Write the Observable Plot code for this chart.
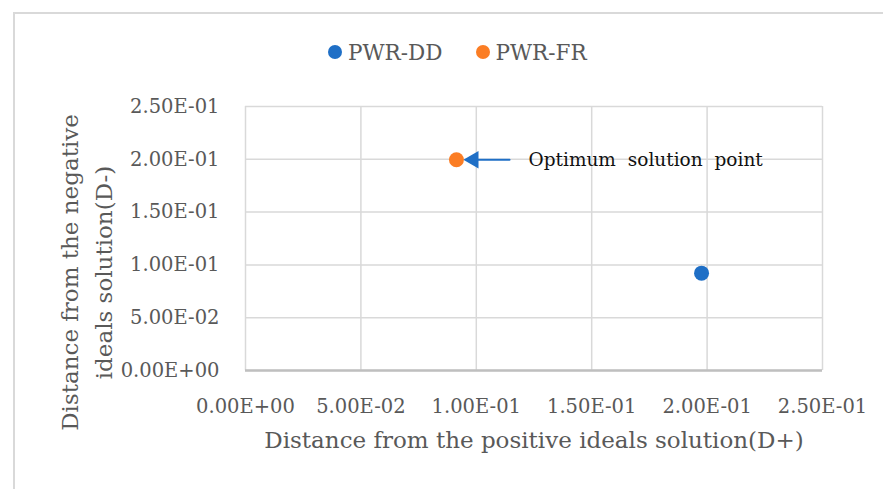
<!DOCTYPE html>
<html>
<head>
<meta charset="utf-8">
<script src="https://cdn.jsdelivr.net/npm/d3@7"></script>
<script src="https://cdn.jsdelivr.net/npm/@observablehq/plot@0.6"></script>
<style>
  html, body { margin: 0; padding: 0; background: #fff; }
  #wrap { position: relative; width: 883px; height: 489px; overflow: hidden; font-family: "DejaVu Serif", serif; }
  #frame { position: absolute; left: 13px; top: 12px; width: 900px; height: 500px; border-left: 2px solid #d9d9d9; border-top: 2px solid #d9d9d9; box-sizing: border-box; }
  #legend { position: absolute; left: 328px; top: 38px; height: 28px; display: flex; align-items: center; font-size: 21.5px; color: #595959; white-space: nowrap; }
  .item { display: flex; align-items: center; margin-right: 33px; }
  .sw { width: 14px; height: 14px; border-radius: 50%; margin-right: 6px; }
  #chart { position: absolute; left: 0; top: 80px; }
</style>
</head>
<body>
<div id="wrap">
  <div id="frame"></div>
  <div id="legend"></div>
  <div id="chart"></div>
</div>
<script>
const series = ["PWR-DD", "PWR-FR"];
const dPlus = [0.1976, 0.0914];   // x: distance from positive ideal solution
const dMinus = [0.0922, 0.1996];  // y: distance from negative ideal solution
const colors = ["#1f6fc6", "#fb7d24"];
const xTicks = [0, 0.05, 0.10, 0.15, 0.20, 0.25];
const yTicks = [0, 0.05, 0.10, 0.15, 0.20, 0.25];
const xTitle = "Distance from the positive ideals solution(D+)";
const yTitle = "Distance from the negative\nideals solution(D-)";
const annotText = "Optimum solution point";
const annotTailX = 0.1144; // start of the annotation arrow (data units)
const annotTarget = 1;     // index of the pointed-at series (PWR-FR)

const fmt = d => d.toExponential(2).replace(/e([+-])(\d)$/, "E$10$2").replace("e", "E");

const data = series.map((s, i) => ({series: s, x: dPlus[i], y: dMinus[i], color: colors[i]}));
const target = data[annotTarget];
const annot = [{x1: annotTailX, x2: target.x, y: target.y, text: annotText}];

// legend
const legend = document.getElementById("legend");
series.forEach((s, i) => {
  const it = document.createElement("div");
  it.className = "item";
  it.innerHTML = `<span class="sw" style="background:${colors[i]}"></span><span>${s}</span>`;
  legend.appendChild(it);
});

const plot = Plot.plot({
  width: 883,
  height: 409,
  marginLeft: 245,
  marginRight: 61,
  marginTop: 26,
  marginBottom: 119,
  style: {fontFamily: "DejaVu Serif, serif", fontSize: "19.5px", color: "#595959", background: "transparent"},
  x: {domain: [0, 0.25], ticks: xTicks, tickFormat: fmt},
  y: {domain: [0, 0.25], ticks: yTicks, tickFormat: fmt},
  marks: [
    Plot.gridX(xTicks, {stroke: "#d9d9d9", strokeOpacity: 1, strokeWidth: 1.5}),
    Plot.gridY(yTicks, {stroke: "#d9d9d9", strokeOpacity: 1, strokeWidth: 1.5}),
    Plot.ruleY([0], {stroke: "#bfbfbf", strokeWidth: 2.5}),
    Plot.axisX({ticks: xTicks, tickFormat: fmt, tickSize: 0, tickPadding: 29, label: null, fontSize: 19.5}),
    Plot.axisY({ticks: yTicks, tickFormat: fmt, tickSize: 0, tickPadding: 26, label: null, fontSize: 19.5}),
    Plot.text([xTitle], {frameAnchor: "bottom", dy: 77, fontSize: 23, fill: "#595959"}),
    Plot.text([yTitle], {frameAnchor: "left", rotate: -90, dx: -161, dy: 34, fontSize: 23, lineHeight: 1.48, fill: "#595959", textAnchor: "middle"}),
    Plot.arrow(annot, {x1: "x1", x2: "x2", y1: "y", y2: "y", stroke: "#1f6fc6", strokeWidth: 2, headLength: 0, insetEnd: 18}),
    Plot.dot(annot, {x: "x2", y: "y", symbol: "triangle", r: 6.5, fill: "#1f6fc6", rotate: -90, dx: 17}),
    Plot.text(annot, {x: "x1", y: "y", text: "text", dx: 19, textAnchor: "start", fill: "#111", fontSize: 18.5}),
    Plot.dot(data, {x: "x", y: "y", fill: "color", r: 7.5})
  ]
});
document.getElementById("chart").appendChild(plot);
d3.select(plot).selectAll("text").filter(function () { return this.textContent === annotText; }).style("word-spacing", "6px");
</script>
</body>
</html>
